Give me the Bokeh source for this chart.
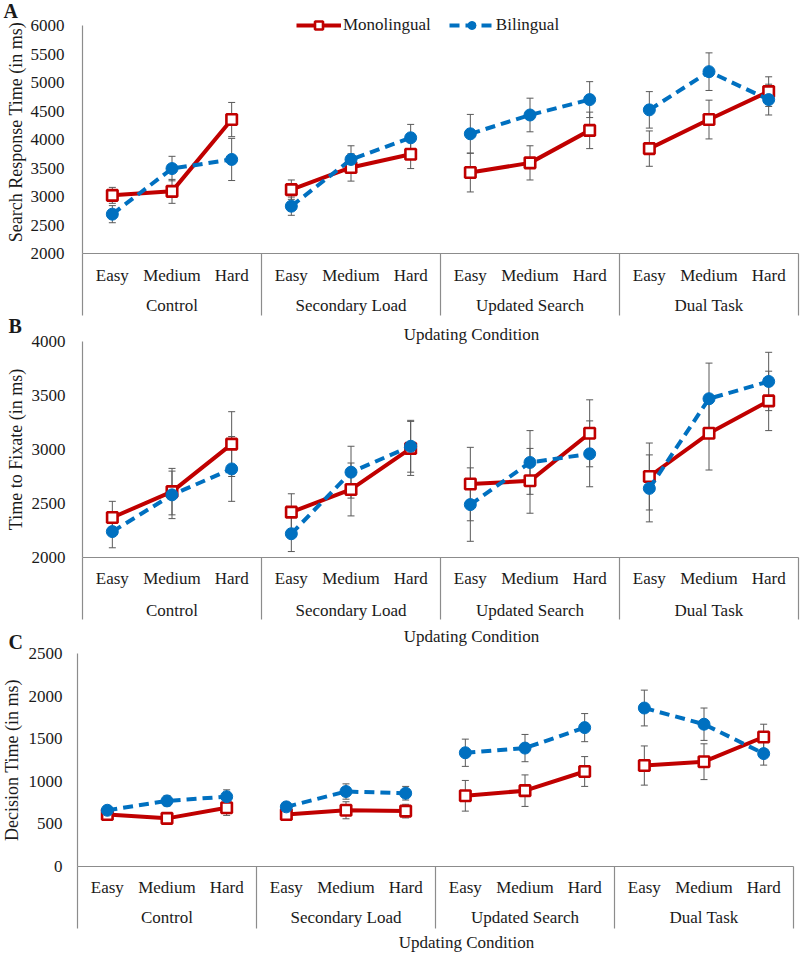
from bokeh.plotting import figure
from bokeh.models import (FactorRange, Range1d, CategoricalAxis, LinearAxis, FixedTicker,
                          ColumnDataSource, Whisker, TeeHead, Legend, LegendItem)
from bokeh.core.properties import value
from bokeh.layouts import column
from bokeh.embed import file_html
from bokeh.resources import INLINE

# ---------------- data ----------------
groups = ["Control", "Secondary Load", "Updated Search", "Dual Task"]
levels = ["Easy", "Medium", "Hard"]
x_title = "Updating Condition"
series_names = ["Monolingual", "Bilingual"]

a_ylabel = "Search Response Time (in ms)"
a_ticks = [2000, 2500, 3000, 3500, 4000, 4500, 5000, 5500, 6000]
a_mono = [3020, 3090, 4350, 3120, 3510, 3740, 3420, 3590, 4160, 3840, 4350, 4840]
a_mono_err = [140, 210, 300, 170, 240, 250, 340, 300, 320, 310, 340, 260]
a_bi = [2690, 3490, 3650, 2830, 3650, 4030, 4100, 4430, 4700, 4520, 5190, 4700]
a_bi_err = [150, 215, 370, 160, 240, 235, 340, 295, 315, 320, 330, 270]

b_ylabel = "Time to Fixate (in ms)"
b_ticks = [2000, 2500, 3000, 3500, 4000]
b_mono = [2370, 2610, 3050, 2420, 2630, 3010, 2680, 2710, 3150, 2750, 3150, 3450]
b_mono_err = [150, 215, 300, 170, 245, 250, 340, 300, 310, 310, 340, 275]
b_bi = [2240, 2580, 2820, 2220, 2790, 3030, 2490, 2880, 2960, 2640, 3470, 3630]
b_bi_err = [150, 220, 300, 165, 240, 240, 340, 295, 305, 310, 330, 270]

c_ylabel = "Decision Time (in ms)"
c_ticks = [0, 500, 1000, 1500, 2000, 2500]
c_mono = [610, 565, 690, 610, 660, 650, 830, 890, 1115, 1185, 1230, 1520]
c_mono_err = [50, 50, 90, 60, 100, 80, 180, 185, 175, 230, 210, 150]
c_bi = [660, 770, 820, 700, 880, 860, 1335, 1390, 1630, 1860, 1670, 1325]
c_bi_err = [50, 60, 80, 50, 90, 80, 160, 160, 165, 210, 190, 135]

# ---------------- style ----------------
FONT = "Liberation Serif"
GREY = "#8c8c8c"
ERR = "#595959"
RED = "#C00000"
BLUE = "#0070C0"
TXT = "#1a1a1a"

factors = [(g, l) for g in groups for l in levels]
NOTICK = dict(major_tick_line_color=None, minor_tick_line_color=None,
              major_tick_out=0, major_tick_in=0, minor_tick_out=0, minor_tick_in=0)


def make_panel(letter, ylabel, ticks, mono, mono_err, bi, bi_err, *, height, left, right,
               top, bottom, top_pad, ytick_standoff, ylabel_standoff, sub_standoff,
               grp_standoff, title_drop, title_shift, margin, letter_off, legend=False):
    y0, y1 = ticks[0], ticks[-1]
    frame_h = height - top - bottom
    axis_px = frame_h - top_pad
    upp = (y1 - y0) / axis_px          # data units per pixel
    p = figure(width=800, height=height,
               x_range=FactorRange(factors=factors, factor_padding=0, group_padding=0,
                                   subgroup_padding=0, range_padding=0),
               y_range=Range1d(y0, y1 + top_pad * upp),
               x_axis_location=None, y_axis_location=None,
               output_backend="svg", toolbar_location=None,
               min_border_left=left, min_border_right=right,
               min_border_top=top, min_border_bottom=bottom,
               background_fill_color=None, border_fill_color=None,
               outline_line_color=None, margin=margin)
    p.extra_x_ranges = {"groups": FactorRange(factors=groups, factor_padding=0, range_padding=0)}
    p.xgrid.visible = False
    p.ygrid.visible = False

    ya = LinearAxis(ticker=FixedTicker(ticks=ticks), axis_label=ylabel, bounds=(y0, y1),
                    axis_line_color=GREY, axis_line_width=1.2, **NOTICK,
                    major_label_standoff=ytick_standoff,
                    major_label_text_font=FONT, major_label_text_font_size="17px",
                    major_label_text_color=TXT,
                    axis_label_text_font=FONT, axis_label_text_font_size="18px",
                    axis_label_text_font_style="normal", axis_label_text_color=TXT,
                    axis_label_standoff=ylabel_standoff)
    p.add_layout(ya, "left")

    xa = CategoricalAxis(axis_line_color=GREY, axis_line_width=1.2, **NOTICK,
                         major_label_standoff=sub_standoff,
                         major_label_text_font=FONT, major_label_text_font_size="17px",
                         major_label_text_color=TXT, major_label_orientation="horizontal",
                         group_text_font_size="1px", group_text_color=None,
                         separator_line_color=None)
    p.add_layout(xa, "below")

    xg = CategoricalAxis(x_range_name="groups", axis_line_color=None, **NOTICK,
                         major_label_standoff=grp_standoff,
                         major_label_text_font=FONT, major_label_text_font_size="17px",
                         major_label_text_color=TXT, major_label_orientation="horizontal",
                         separator_line_color=None)
    p.add_layout(xg, "below")

    # group separators, drawn below the category axis
    nsep = len(groups) + 1
    sep_x = list(range(nsep))
    p.segment(x0=sep_x, x1=sep_x, y0=[y0] * nsep, y1=[y0 - 62 * upp] * nsep,
              x_range_name="groups", line_color=GREY, line_width=1.2, level="overlay")

    # x-axis title, below the group labels
    p.text(x=[len(groups) / 2], y=[y0], text=[x_title], x_range_name="groups",
           x_offset=title_shift, y_offset=title_drop,
           text_font=value(FONT), text_font_size="17px", text_color=TXT,
           text_baseline="middle", text_align="center", level="overlay")

    # panel letter, anchored at the top-left corner of the axis
    p.text(x=[0], y=[y1], text=[letter], x_range_name="groups",
           x_offset=letter_off[0], y_offset=letter_off[1],
           text_font=value(FONT), text_font_style="bold", text_font_size="20px",
           text_color=TXT, text_baseline="alphabetic", text_align="left", level="overlay")

    for vals, errs in ((mono, mono_err), (bi, bi_err)):
        src = ColumnDataSource(dict(x=factors,
                                    upper=[v + e for v, e in zip(vals, errs)],
                                    lower=[v - e for v, e in zip(vals, errs)]))
        w = Whisker(source=src, base="x", upper="upper", lower="lower", dimension="height",
                    line_color=ERR, line_width=1,
                    upper_head=TeeHead(size=7, line_color=ERR, line_width=1),
                    lower_head=TeeHead(size=7, line_color=ERR, line_width=1))
        p.add_layout(w)

    m_lines, b_lines = [], []
    for gi, g in enumerate(groups):
        xs = [(g, l) for l in levels]
        m_lines.append(p.line(x=xs, y=mono[gi * 3:gi * 3 + 3], line_color=RED, line_width=4))
    m_sc = p.scatter(x=factors, y=mono, marker="square", size=10.5, fill_color="white",
                     line_color=RED, line_width=2.6)
    for gi, g in enumerate(groups):
        xs = [(g, l) for l in levels]
        b_lines.append(p.line(x=xs, y=bi[gi * 3:gi * 3 + 3], line_color=BLUE, line_width=4,
                              line_dash="10 6"))
    b_sc = p.scatter(x=factors, y=bi, marker="circle", size=12, fill_color=BLUE,
                     line_color=BLUE, line_width=1)

    if legend:
        lg = Legend(items=[LegendItem(label=series_names[0], renderers=[m_lines[0], m_sc]),
                           LegendItem(label=series_names[1], renderers=[b_lines[0], b_sc])],
                    orientation="horizontal", location=(214, 218),
                    glyph_width=45, glyph_height=20, label_standoff=2, spacing=18,
                    padding=0, margin=0, border_line_color=None, background_fill_alpha=0,
                    label_text_font=FONT, label_text_font_size="17px",
                    label_text_color=TXT, label_height=20)
        p.add_layout(lg)
    return p


pa = make_panel("A", a_ylabel, a_ticks, a_mono, a_mono_err, a_bi, a_bi_err,
                height=346, left=81, right=2, top=10, bottom=93, top_pad=15,
                ytick_standoff=18, ylabel_standoff=2, sub_standoff=12, grp_standoff=8,
                title_drop=81, title_shift=31, margin=(0, 0, 0, 0), letter_off=(-79, -15),
                legend=True)
pb = make_panel("B", b_ylabel, b_ticks, b_mono, b_mono_err, b_bi, b_bi_err,
                height=337, left=82, right=2, top=29, bottom=92, top_pad=0,
                ytick_standoff=17, ylabel_standoff=3, sub_standoff=11, grp_standoff=10,
                title_drop=79, title_shift=31, margin=(-34, 0, 0, 0), letter_off=(-74, -16))
pc = make_panel("C", c_ylabel, c_ticks, c_mono, c_mono_err, c_bi, c_bi_err,
                height=331, left=81, right=2, top=27, bottom=91, top_pad=0,
                ytick_standoff=15, ylabel_standoff=4, sub_standoff=11, grp_standoff=8,
                title_drop=76, title_shift=31, margin=(-23, 0, 0, -5), letter_off=(-69, -12))

layout = column(pa, pb, pc, spacing=0)
open("out.html", "w").write(file_html(layout, INLINE))
